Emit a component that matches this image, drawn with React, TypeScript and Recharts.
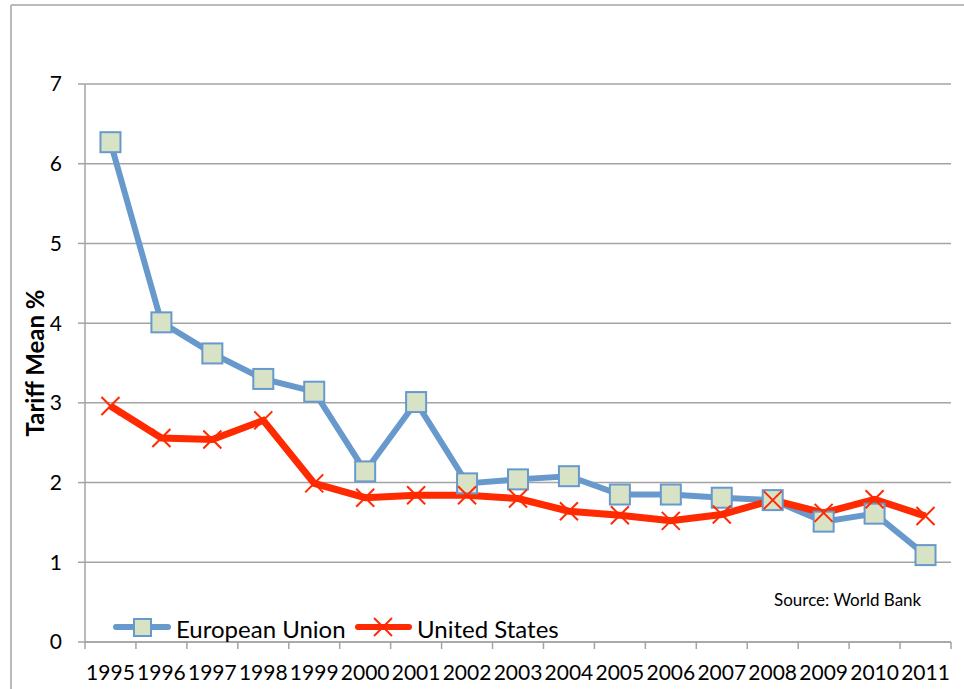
import React from 'react';
import { LineChart, Line, XAxis, YAxis, CartesianGrid, Legend } from 'recharts';

const years = [1995, 1996, 1997, 1998, 1999, 2000, 2001, 2002, 2003, 2004, 2005, 2006, 2007, 2008, 2009, 2010, 2011];
const euValues = [6.27, 4.01, 3.62, 3.3, 3.14, 2.14, 3.01, 1.99, 2.04, 2.08, 1.85, 1.85, 1.81, 1.78, 1.51, 1.61, 1.09];
const usValues = [2.96, 2.56, 2.54, 2.78, 1.99, 1.81, 1.84, 1.84, 1.8, 1.64, 1.59, 1.52, 1.6, 1.78, 1.62, 1.79, 1.58];
const yTicks = [0, 1, 2, 3, 4, 5, 6, 7];
const seriesNames = ['European Union', 'United States'];

const data = years.map((y, i) => ({ year: y, eu: euValues[i], us: usValues[i] }));
const halfTicks = [years[0] - 0.5, ...years.flatMap((y) => [y, y + 0.5])];

const FONT = 'Lato, "Open Sans", sans-serif';
const BLUE = '#6799CD';
const MARKER_FILL = '#D8E3C6';
const RED = '#FF2A00';
const GREY = '#A3A3A3';

const SquareDot = (props: any) => {
  const { cx, cy } = props;
  if (cx == null || cy == null) return null;
  return <rect x={cx - 10} y={cy - 10} width={20} height={20} fill={MARKER_FILL} stroke={BLUE} strokeWidth={2} />;
};

const CrossDot = (props: any) => {
  const { cx, cy } = props;
  if (cx == null || cy == null) return null;
  const s = 9;
  return (
    <g stroke={RED} strokeWidth={2}>
      <line x1={cx - s} y1={cy - s} x2={cx + s} y2={cy + s} />
      <line x1={cx - s} y1={cy + s} x2={cx + s} y2={cy - s} />
    </g>
  );
};

const XTick = (props: any) => {
  const { x, y, payload } = props;
  const v = payload.value;
  if (Number.isInteger(v)) {
    return (
      <text x={x} y={y + 38} textAnchor="middle" fontSize={21} fontFamily={FONT} fill="#000">
        {v}
      </text>
    );
  }
  return <line x1={x} y1={y} x2={x} y2={y + 7} stroke={GREY} strokeWidth={1.5} />;
};

const LegendContent = () => (
  <svg width={480} height={40} style={{ display: 'block' }}>
    <line x1={8} y1={20} x2={60} y2={20} stroke={BLUE} strokeWidth={6} strokeLinecap="round" />
    <rect x={26} y={12} width={17} height={17} fill={MARKER_FILL} stroke={BLUE} strokeWidth={2} />
    <text x={68} y={31} fontSize={24} fontFamily={FONT} fill="#000">{seriesNames[0]}</text>
    <line x1={250} y1={20} x2={301} y2={20} stroke={RED} strokeWidth={6} strokeLinecap="round" />
    <g stroke={RED} strokeWidth={2}>
      <line x1={266} y1={11} x2={284} y2={29} />
      <line x1={266} y1={29} x2={284} y2={11} />
    </g>
    <text x={309} y={31} fontSize={24} fontFamily={FONT} fill="#000">{seriesNames[1]}</text>
  </svg>
);

export default function App() {
  return (
    <div style={{ position: 'absolute', left: 0, top: 0, width: 964, height: 689, overflow: 'hidden', background: '#fff' }}>
      <LineChart width={964} height={689} data={data} margin={{ top: 84, right: 13, left: 0, bottom: 0 }}>
        <CartesianGrid vertical={false} stroke={GREY} strokeWidth={1.5} />
        <XAxis
          dataKey="year"
          type="number"
          domain={[years[0] - 0.5, years[years.length - 1] + 0.5]}
          ticks={halfTicks}
          interval={0}
          tickLine={false}
          tickSize={0}
          tickMargin={0}
          tick={<XTick />}
          height={47}
          axisLine={{ stroke: GREY, strokeWidth: 1.5 }}
        />
        <YAxis
          domain={[0, 7]}
          ticks={yTicks}
          interval={0}
          width={85}
          tickSize={7}
          tickMargin={16}
          tickLine={{ stroke: GREY, strokeWidth: 1.5 }}
          axisLine={{ stroke: GREY, strokeWidth: 1.5 }}
          tick={{ fontSize: 21, fontFamily: FONT, fill: '#000' }}
        />
        <Legend
          layout="horizontal"
          verticalAlign="middle"
          align="center"
          content={<LegendContent />}
          wrapperStyle={{ left: 108, top: 607, width: 480, height: 40 }}
        />
        <Line
          dataKey="eu"
          name={seriesNames[0]}
          stroke={BLUE}
          strokeWidth={6}
          dot={<SquareDot />}
          activeDot={false}
          isAnimationActive={false}
        />
        <Line
          dataKey="us"
          name={seriesNames[1]}
          stroke={RED}
          strokeWidth={7}
          dot={<CrossDot />}
          activeDot={false}
          isAnimationActive={false}
        />
      </LineChart>
      <svg width={964} height={689} style={{ position: 'absolute', left: 0, top: 0, pointerEvents: 'none' }}>
        <line x1={11} y1={5} x2={964} y2={5} stroke={GREY} strokeWidth={1.5} />
        <line x1={11} y1={5} x2={11} y2={689} stroke={GREY} strokeWidth={1.5} />
        <text x={178} y={-4} fontSize={22} fontFamily={FONT} fill="#000">g</text>
        <text
          x={34}
          y={363}
          transform="rotate(-90 34 363)"
          textAnchor="middle"
          dominantBaseline="central"
          fontSize={24}
          fontWeight="bold"
          fontFamily={FONT}
          fill="#000"
        >
          Tariff Mean %
        </text>
        <text x={774} y={606} fontSize={17} fontFamily={FONT} fill="#000">Source: World Bank</text>
      </svg>
    </div>
  );
}
